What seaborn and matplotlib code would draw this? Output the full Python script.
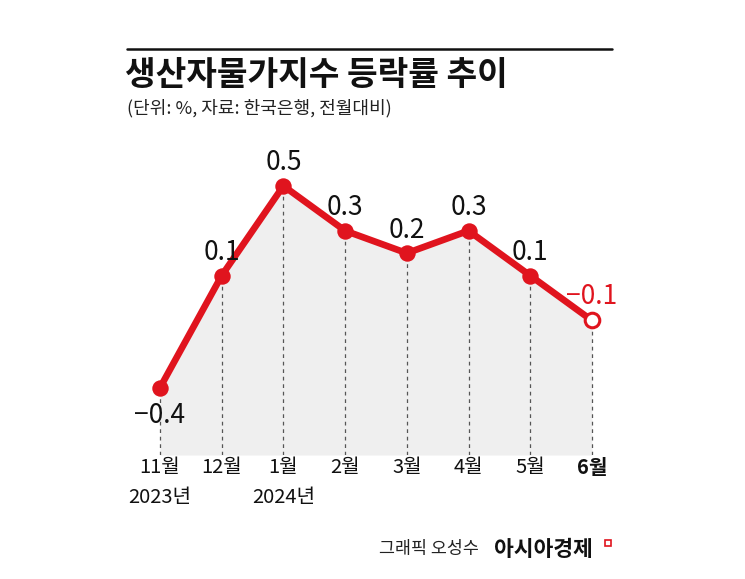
import matplotlib
matplotlib.use("Agg")
import matplotlib.pyplot as plt
import seaborn as sns
import numpy as np
import pandas as pd
from matplotlib.patches import Rectangle
from matplotlib.lines import Line2D

months = ["11월", "12월", "1월", "2월", "3월", "4월", "5월", "6월"]
years = ["2023년", "", "2024년", "", "", "", "", ""]
values = [-0.4, 0.1, 0.5, 0.3, 0.2, 0.3, 0.1, -0.1]
labels = ["−0.4", "0.1", "0.5", "0.3", "0.2", "0.3", "0.1", "−0.1"]

title = "생산자물가지수 등락률 추이"
subtitle = "(단위: %, 자료: 한국은행, 전월대비)"
credit = "그래픽 오성수"
brand = "아시아경제"

sns.set_theme(style="white")
plt.rcParams['font.family'] = ['Noto Sans CJK KR', 'DejaVu Sans']
plt.rcParams['axes.unicode_minus'] = True

RED = "#E0141E"
FILL = "#EFEFEF"

fig = plt.figure(figsize=(7.45, 5.79), dpi=100)
W, H = 745, 579
ax_l, ax_r, ax_t, ax_b = 127, 625, 150, 455
ax = fig.add_axes([ax_l / W, 1 - ax_b / H, (ax_r - ax_l) / W, (ax_b - ax_t) / H])

df = pd.DataFrame({"x": np.arange(len(values)), "v": values})
x0px, step = 160, 61.7
ax.set_xlim((ax_l - x0px) / step, (ax_r - x0px) / step)
ymin = -0.7
ax.set_ylim(ymin, 0.5 + (186 - ax_t) / 225)

ax.fill_between(df["x"], df["v"], ymin, color=FILL, linewidth=0, zorder=1)
ax.vlines(df["x"], ymin, df["v"], colors="#555555", linestyles=(0, (3, 3)), linewidth=0.9, zorder=2)
sns.lineplot(data=df, x="x", y="v", color=RED, linewidth=4.8, ax=ax, zorder=3)
sns.scatterplot(data=df.iloc[:-1], x="x", y="v", color=RED, s=140, linewidth=0, ax=ax, zorder=4)
sns.scatterplot(data=df.iloc[-1:], x="x", y="v", facecolor="white", edgecolor=RED, s=110, linewidth=2.2, ax=ax, zorder=5)

for i, (v, lab) in enumerate(zip(values, labels)):
    if i == 0:
        off, col = -28, "#111111"
    elif i == len(values) - 1:
        off, col = 24, RED
    else:
        off, col = 23, "#111111"
    ax.annotate(lab, (i, v), xytext=(0, off), textcoords="offset pixels", ha="center", va="center",
                fontsize=19, fontweight="medium", color=col)

ax.set_xticks(df["x"])
ax.set_xticklabels([])
ax.tick_params(axis="both", length=0)
ax.set_yticks([])
ax.set_xlabel("")
ax.set_ylabel("")
for s in ax.spines.values():
    s.set_visible(False)

for i, (m, yr) in enumerate(zip(months, years)):
    ax.annotate(m, (i, ymin), xytext=(0, -13), textcoords="offset pixels", ha="center", va="center",
                fontsize=14.5, color="#111111", fontweight="bold" if i == len(months) - 1 else "normal",
                annotation_clip=False)
    if yr:
        ax.annotate(yr, (i, ymin), xytext=(0, -42), textcoords="offset pixels", ha="center", va="center",
                    fontsize=14.5, color="#111111", annotation_clip=False)

fig.add_artist(Line2D([127 / W, 612 / W], [1 - 49 / H, 1 - 49 / H], color="#111111", linewidth=1.8))
fig.text(125 / W, 1 - 76 / H, title, fontsize=24, fontweight="bold", color="#111111", ha="left", va="center")
fig.text(127 / W, 1 - 108 / H, subtitle, fontsize=13, color="#222222", ha="left", va="center")

fig.text(479 / W, 1 - 549 / H, credit, fontsize=12.5, color="#222222", ha="right", va="center")
fig.text(494 / W, 1 - 549 / H, brand, fontsize=15.5, fontweight="bold", color="#111111", ha="left", va="center")
fig.add_artist(Rectangle((605 / W, 1 - 546 / H), 6 / W, 6 / H, facecolor="white", edgecolor=RED, linewidth=1.2))

fig.savefig("out.png", dpi=100, facecolor="white")
